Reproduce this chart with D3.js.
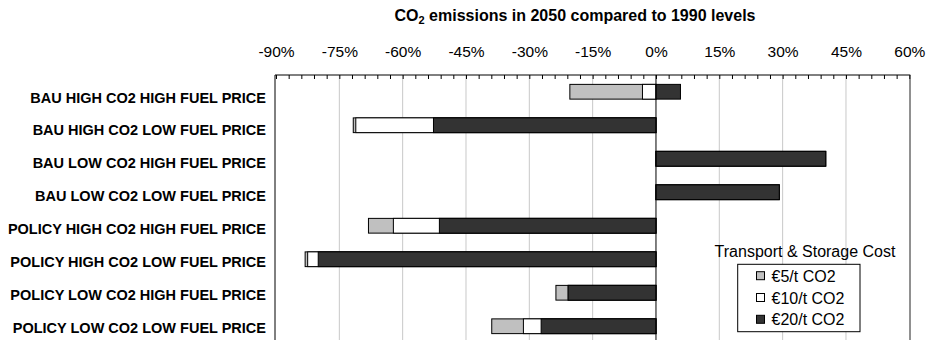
<!DOCTYPE html>
<html>
<head>
<meta charset="utf-8">
<script src="https://cdn.jsdelivr.net/npm/d3@7"></script>
<style>
  html, body { margin: 0; padding: 0; background: #fff; }
  svg { display: block; font-family: "Liberation Sans", Arial, Helvetica, sans-serif; }
</style>
</head>
<body>
<svg id="chart" width="930" height="340"></svg>
<script>
// Scenarios, top to bottom
const categories = [
  "BAU HIGH CO2 HIGH FUEL PRICE",
  "BAU HIGH CO2 LOW FUEL PRICE",
  "BAU LOW CO2 HIGH FUEL PRICE",
  "BAU LOW CO2 LOW FUEL PRICE",
  "POLICY HIGH CO2 HIGH FUEL PRICE",
  "POLICY HIGH CO2 LOW FUEL PRICE",
  "POLICY LOW CO2 HIGH FUEL PRICE",
  "POLICY LOW CO2 LOW FUEL PRICE"
];

// CO2 emissions in 2050 vs 1990 (%), per transport & storage cost
const cost5  = [-20.4, -71.7, 40.2, 29.2, -68.1, -83.1, -23.7, -38.9];
const cost10 = [ -3.2, -71.1, 40.2, 29.2, -62.2, -82.5, -20.8, -31.4];
const cost20 = [  5.8, -52.7, 40.2, 29.2, -51.3, -80.0, -20.8, -27.2];

const seriesNames = ["€5/t CO2", "€10/t CO2", "€20/t CO2"];
const seriesColors = ["#c0c0c0", "#ffffff", "#333333"];
const seriesValues = [cost5, cost10, cost20];

const majorTicks = d3.range(-90, 61, 15);
const minorTicks = d3.range(-90, 61, 3);

const svg = d3.select("#chart");

const plot = { left: 276, right: 909.3, top: 75, bottom: 343 };

const x = d3.scaleLinear().domain([-90, 60]).range([plot.left, plot.right]);
const y = d3.scaleBand()
  .domain(categories)
  .range([plot.top, plot.bottom])
  .paddingInner(0.56)
  .paddingOuter(0.28);
const yLabel = d3.scalePoint().domain(categories).range([97.5, 327.8]);

// Title
const title = svg.append("text")
  .attr("x", 575).attr("y", 21)
  .attr("text-anchor", "middle")
  .attr("font-weight", "bold")
  .attr("font-size", 16);
title.append("tspan").text("CO");
title.append("tspan").attr("font-size", 11).attr("dy", 3).text("2");
title.append("tspan").attr("dy", -3).text(" emissions in 2050 compared to 1990 levels");

// Gridlines
svg.append("g")
  .selectAll("line")
  .data(majorTicks.filter(d => d !== 0 && d > -90 && d < 60))
  .join("line")
  .attr("x1", d => x(d)).attr("x2", d => x(d))
  .attr("y1", plot.top).attr("y2", 340)
  .attr("stroke", "#c8c8c8")
  .attr("stroke-width", 1);

// Tick labels along the top
const axisLabels = svg.append("g")
  .attr("transform", `translate(0,${plot.top})`)
  .call(d3.axisTop(x).tickValues(majorTicks).tickSize(0).tickPadding(18.5)
    .tickFormat(d => d + "%"));
axisLabels.select(".domain").remove();
axisLabels.selectAll("text")
  .attr("font-size", 15.5)
  .attr("font-family", "Liberation Sans, Arial, sans-serif")
  .attr("fill", "#000");

// Minor tick marks hanging inside the top border
const minorAxis = svg.append("g")
  .attr("transform", `translate(0,${plot.top})`)
  .call(d3.axisTop(x).tickValues(minorTicks).tickSize(-4).tickFormat(""));
minorAxis.select(".domain").remove();
minorAxis.selectAll("line").attr("stroke", "#000");

// Bars, overlapped: cheapest storage behind, most expensive in front
seriesValues.forEach((vals, si) => {
  svg.append("g")
    .selectAll("rect")
    .data(categories.map((c, i) => ({ c, v: vals[i] })))
    .join("rect")
    .attr("x", d => x(Math.min(0, d.v)))
    .attr("width", d => Math.abs(x(d.v) - x(0)))
    .attr("y", d => y(d.c))
    .attr("height", y.bandwidth())
    .attr("fill", seriesColors[si])
    .attr("stroke", "#000")
    .attr("stroke-width", 1);
});

// Plot borders and the zero line
svg.append("line")
  .attr("x1", plot.left - 1).attr("x2", plot.right + 1)
  .attr("y1", plot.top).attr("y2", plot.top)
  .attr("stroke", "#000");
svg.append("line")
  .attr("x1", plot.left - 1).attr("x2", plot.left - 1)
  .attr("y1", plot.top).attr("y2", 340)
  .attr("stroke", "#000");
svg.append("line")
  .attr("x1", plot.right + 0.7).attr("x2", plot.right + 0.7)
  .attr("y1", plot.top).attr("y2", 340)
  .attr("stroke", "#222");
svg.append("line")
  .attr("x1", x(0)).attr("x2", x(0))
  .attr("y1", plot.top).attr("y2", 340)
  .attr("stroke", "#000");

// Category labels
svg.append("g")
  .selectAll("text")
  .data(categories)
  .join("text")
  .attr("x", 266)
  .attr("y", d => yLabel(d) + 5)
  .attr("text-anchor", "end")
  .attr("font-weight", "bold")
  .attr("font-size", 14.5)
  .text(d => d);

// Legend
svg.append("text")
  .attr("x", 805).attr("y", 256.7)
  .attr("text-anchor", "middle")
  .attr("font-size", 16)
  .text("Transport & Storage Cost");

svg.append("rect")
  .attr("x", 737.7).attr("y", 264.3)
  .attr("width", 122.3).attr("height", 67.4)
  .attr("fill", "#fff")
  .attr("stroke", "#000");

const legendItems = svg.append("g")
  .selectAll("g")
  .data(seriesNames)
  .join("g")
  .attr("transform", (d, i) => `translate(756.5,${275.7 + i * 21.8})`);
legendItems.append("rect")
  .attr("x", 0).attr("y", -4)
  .attr("width", 8).attr("height", 8)
  .attr("fill", (d, i) => seriesColors[i])
  .attr("stroke", "#000");
legendItems.append("text")
  .attr("x", 15).attr("y", 6)
  .attr("font-size", 16)
  .text(d => d);
</script>
</body>
</html>
